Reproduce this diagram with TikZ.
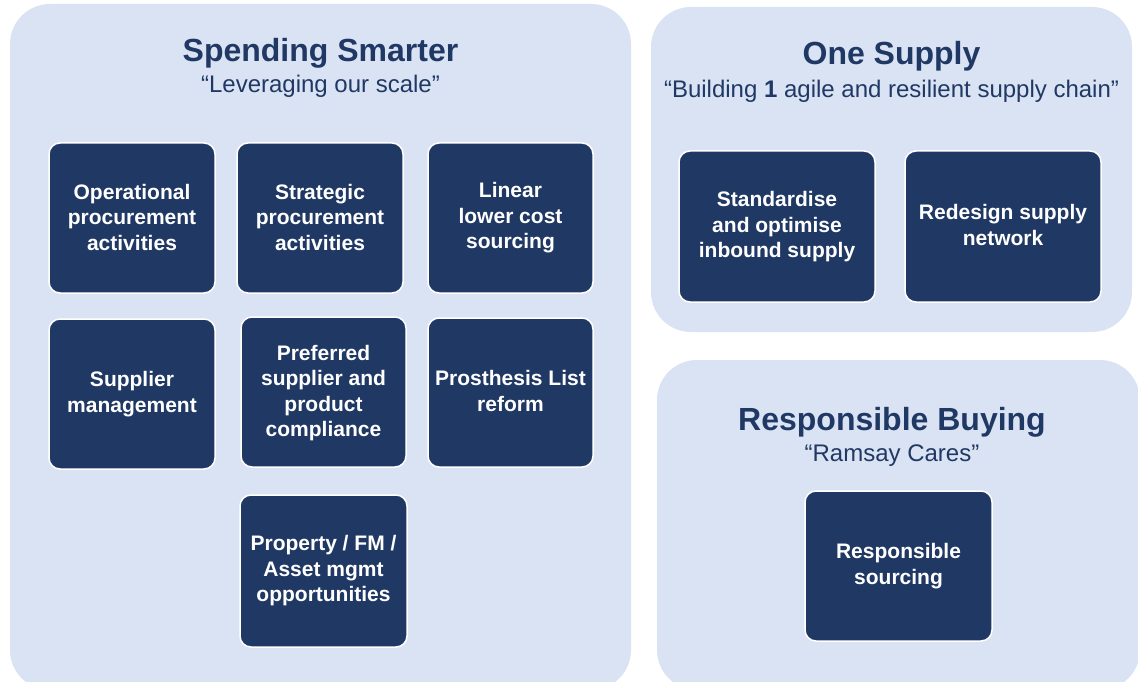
\documentclass[tikz,border=0pt]{standalone}
\usepackage{fontspec}
\setmainfont{Liberation Sans}
\definecolor{panelfill}{HTML}{DAE3F3}
\definecolor{navy}{HTML}{203864}
\begin{document}
\begin{tikzpicture}[x=1pt,y=-1pt,
  panel/.style={fill=panelfill,draw=none,rounded corners=40pt},
  itembox/.style={fill=navy,draw=white,line width=1.5pt,rounded corners=11pt},
  itemtext/.style={text=white,font=\fontsize{21}{25.5}\selectfont\bfseries,align=center,inner sep=0pt},
  titletext/.style={text=navy,font=\fontsize{32}{38}\selectfont\bfseries,inner sep=0pt},
  subtext/.style={text=navy,font=\fontsize{24}{29}\selectfont,inner sep=0pt}]
\useasboundingbox (0,0) rectangle (1138,682);
\clip (0,0) rectangle (1138,682);
\fill[white] (0,0) rectangle (1138,682);
% panels
\path[panel] (10,4) rectangle (631,690);
\path[panel] (651,7) rectangle (1132,332);
\path[panel] (657,360) rectangle (1140,690);
% titles
\node[titletext] (t1) at (320.5,53) {Spending Smarter};
\node[subtext] (s1) at (320.5,86) {“Leveraging our scale”};
\node[titletext] (t2) at (891.5,56) {One Supply};
\node[subtext] (s2) at (891.5,91) {“Building \textbf{1} agile and resilient supply chain”};
\node[titletext] (t3) at (892,422) {Responsible Buying};
\node[subtext] (s3) at (892,456) {“Ramsay Cares”};
% boxes
\path[itembox] (49,143) rectangle (215,293);
\node[itemtext] (b1) at (132,217) {Operational\\procurement\\activities};
\path[itembox] (237,143) rectangle (403,293);
\node[itemtext] (b2) at (320,217) {Strategic\\procurement\\activities};
\path[itembox] (428,143) rectangle (593,293);
\node[itemtext] (b3) at (510.5,218) {Linear\\lower cost\\sourcing};
\path[itembox] (49,319) rectangle (215,469);
\node[itemtext] (b4) at (132,394) {Supplier\\management};
\path[itembox] (241,317) rectangle (406,467);
\node[itemtext] (b5) at (323.5,393) {Preferred\\supplier and\\product\\compliance};
\path[itembox] (428,318) rectangle (593,467);
\node[itemtext] (b6) at (510.5,391) {Prosthesis List\\reform};
\path[itembox] (240,495) rectangle (407,647);
\node[itemtext] (b7) at (323.5,571) {Property / FM /\\Asset mgmt\\opportunities};
\path[itembox] (679,151) rectangle (875,302);
\node[itemtext] (o1) at (777,227) {Standardise\\and optimise\\inbound supply};
\path[itembox] (905,151) rectangle (1101,302);
\node[itemtext] (o2) at (1003,225) {Redesign supply\\network};
\path[itembox] (805,491) rectangle (992,641);
\node[itemtext] (r1) at (898.5,566) {Responsible\\sourcing};
\end{tikzpicture}
\end{document}
